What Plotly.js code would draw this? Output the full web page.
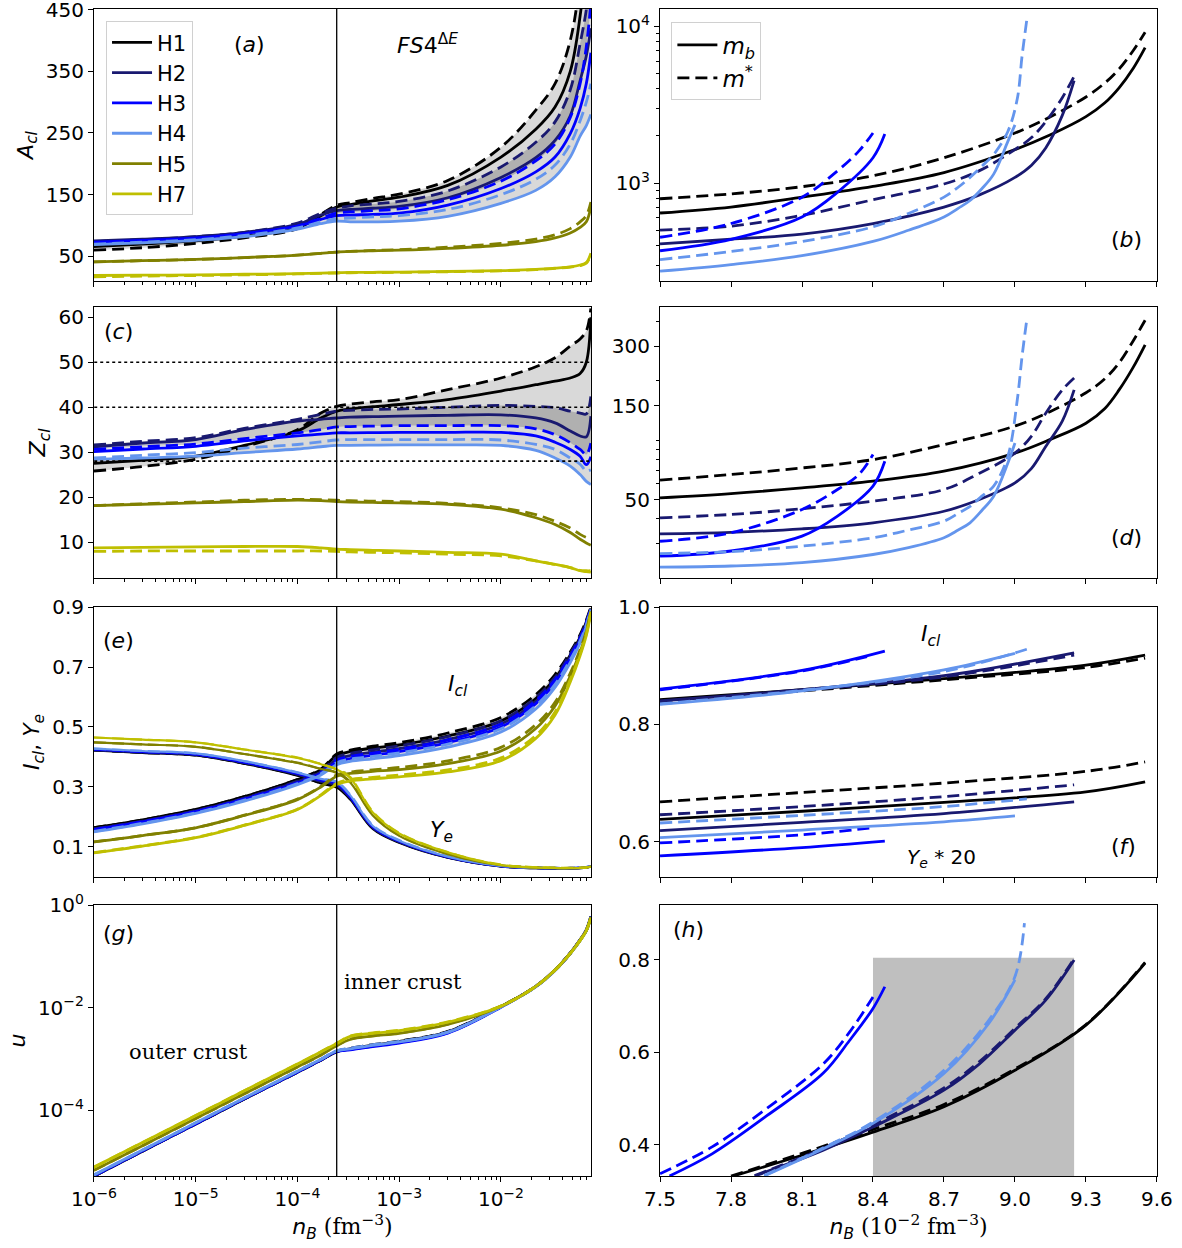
<!DOCTYPE html>
<html><head><meta charset="utf-8">
<script src="https://cdn.plot.ly/plotly-3.0.1.min.js"></script>
<style>html,body{margin:0;padding:0;background:#fff}#chart{width:1182px;height:1248px}</style>
</head><body><div id="chart"></div>
<script>
// ---------------- left column grid (n_B in fm^-3) ----------------
const nB = [1e-6, 3e-6, 1e-5, 3e-5, 1e-4, 1.7e-4, 2.43e-4, 3.3e-4, 5.5e-4, 1e-3, 3e-3, 1e-2, 2.2e-2, 3.4e-2, 4.8e-2, 6e-2, 6.9e-2, 7.65e-2];
const nB_drip = 2.43e-4;
const models = ['H1', 'H2', 'H3', 'H4', 'H5', 'H7'];
const magicZ = [28, 40, 50];

// (a) A_cl
const A_H1_mb = [66, 70, 75, 83, 96, 116, 130, 134, 140, 146, 165, 211, 256, 292, 350, 440, 540, 660];
const A_H1_ms = [60, 64, 71, 80, 95, 118, 133, 137, 144, 151, 173, 227, 287, 330, 400, 500, 620, 800];
const A_H2_mb = [75, 78, 82, 89, 102, 117, 124, 126, 128, 131, 145, 178, 210, 238, 278, 335, 375, 420];
const A_H2_ms = [74, 77, 82, 89, 104, 120, 128, 132, 135, 139, 156, 195, 235, 268, 320, 395, 450, 520];
const A_H3_mb = [73, 76, 80, 87, 99, 110, 116, 117, 118, 120, 133, 160, 187, 211, 249, 290, 330, 380];
const A_H3_ms = [72, 75, 79, 86, 99, 112, 120, 122, 124, 127, 142, 172, 205, 232, 275, 330, 390, 460];
const A_H4_mb = [69, 72, 76, 82, 94, 103, 107, 106, 106, 107, 115, 136, 157, 179, 211, 245, 262, 280];
const A_H4_ms = [70, 73, 77, 84, 96, 106, 111, 112, 114, 116, 126, 150, 175, 198, 232, 270, 300, 330];
const A_H5_mb = [41, 43, 45, 48, 52, 55, 57, 58, 59, 60, 63, 68, 74, 80, 88, 97, 106, 130];
const A_H5_ms = [41, 43, 45, 48, 52, 55, 57, 58, 59.5, 61, 65, 71, 78, 85, 95, 106, 116, 138];
const A_H7_mb = [19, 19.5, 20, 21, 22, 23, 23.5, 24, 24.2, 24.5, 25.5, 27, 29, 31, 33, 36, 40, 55];
const A_H7_ms = [17, 18, 19, 20, 21.5, 22.5, 23, 23.5, 23.7, 24, 25, 26.5, 28.5, 30.5, 32.5, 35, 39, 52];

// (c) Z_cl
const Z_H1_mb = [27.5, 28.2, 29.1, 31.5, 34.7, 37.6, 39.1, 39.6, 40.1, 40.6, 41.7, 43.6, 45.0, 45.8, 46.5, 47.5, 50.0, 60.0];
const Z_H1_ms = [25.8, 26.8, 28.4, 31.2, 35.0, 38.7, 40.2, 40.7, 41.2, 41.7, 43.9, 46.5, 49.0, 51.0, 53.6, 55.2, 57.0, 62.0];
const Z_H2_mb = [31.2, 32.0, 32.8, 35.0, 36.9, 37.3, 37.6, 37.8, 37.9, 38.0, 38.2, 38.3, 37.6, 36.5, 34.7, 33.6, 33.4, 38.0];
const Z_H2_ms = [31.6, 32.4, 33.2, 35.3, 37.3, 38.4, 39.1, 39.3, 39.5, 39.6, 40.0, 40.4, 40.2, 39.9, 39.1, 38.7, 38.5, 42.4];
const Z_H3_mb = [30.1, 30.7, 31.3, 32.5, 33.6, 34.0, 34.3, 34.3, 34.35, 34.4, 34.4, 34.4, 33.6, 32.2, 30.6, 29.1, 27.2, 29.0];
const Z_H3_ms = [30.6, 31.2, 31.8, 33.0, 34.3, 35.0, 35.6, 35.7, 35.8, 35.9, 35.9, 35.9, 35.2, 33.9, 32.1, 30.6, 29.5, 32.0];
const Z_H4_mb = [28.4, 28.7, 29.1, 29.9, 30.7, 31.2, 31.5, 31.5, 31.55, 31.6, 31.6, 31.5, 30.4, 28.7, 26.9, 25.0, 23.5, 22.8];
const Z_H4_ms = [28.7, 29.3, 29.9, 30.9, 31.7, 32.3, 32.7, 32.8, 32.8, 32.8, 32.8, 32.7, 31.7, 30.6, 28.7, 27.3, 25.8, 26.1];
const Z_H5_mb = [18.1, 18.4, 18.7, 19.0, 19.3, 19.2, 19.0, 18.9, 18.8, 18.7, 18.4, 17.3, 15.4, 13.9, 12.1, 10.6, 9.8, 9.3];
const Z_H5_ms = [18.1, 18.5, 18.9, 19.3, 19.5, 19.4, 19.3, 19.2, 19.1, 19.0, 18.6, 17.6, 16.1, 14.6, 13.1, 11.7, 11.0, 10.7];
const Z_H7_mb = [8.7, 8.8, 8.9, 9.0, 9.0, 8.7, 8.4, 8.3, 8.15, 8.0, 7.7, 7.3, 5.8, 5.0, 4.3, 3.6, 3.4, 3.3];
const Z_H7_ms = [7.9, 8.0, 8.0, 8.0, 8.0, 8.0, 7.9, 7.8, 7.7, 7.6, 7.3, 6.9, 5.8, 5.0, 4.3, 3.7, 3.6, 3.6];

// (e) I_cl
const I_H1_mb = [0.164, 0.190, 0.225, 0.268, 0.325, 0.358, 0.405, 0.418, 0.430, 0.440, 0.470, 0.520, 0.595, 0.662, 0.740, 0.800, 0.850, 0.895];
const I_H1_ms = [0.164, 0.190, 0.225, 0.268, 0.325, 0.360, 0.410, 0.423, 0.436, 0.448, 0.480, 0.532, 0.608, 0.675, 0.750, 0.808, 0.856, 0.900];
const I_H2_mb = [0.160, 0.186, 0.220, 0.262, 0.318, 0.350, 0.392, 0.405, 0.416, 0.428, 0.458, 0.510, 0.586, 0.655, 0.735, 0.795, 0.846, 0.893];
const I_H2_ms = [0.160, 0.186, 0.221, 0.263, 0.320, 0.353, 0.398, 0.412, 0.424, 0.437, 0.468, 0.521, 0.598, 0.666, 0.745, 0.803, 0.852, 0.897];
const I_H3_mb = [0.158, 0.184, 0.218, 0.259, 0.313, 0.345, 0.383, 0.395, 0.406, 0.418, 0.448, 0.500, 0.578, 0.648, 0.728, 0.790, 0.842, 0.892];
const I_H3_ms = [0.158, 0.184, 0.218, 0.260, 0.315, 0.348, 0.390, 0.402, 0.413, 0.426, 0.457, 0.510, 0.588, 0.658, 0.737, 0.797, 0.848, 0.895];
const I_H4_mb = [0.150, 0.177, 0.212, 0.253, 0.308, 0.340, 0.374, 0.385, 0.394, 0.405, 0.433, 0.483, 0.560, 0.632, 0.715, 0.780, 0.835, 0.890];
const I_H4_ms = [0.152, 0.179, 0.214, 0.256, 0.311, 0.344, 0.381, 0.393, 0.402, 0.414, 0.443, 0.494, 0.571, 0.642, 0.724, 0.787, 0.840, 0.892];
const I_H5_mb = [0.117, 0.138, 0.164, 0.205, 0.258, 0.300, 0.336, 0.345, 0.352, 0.358, 0.378, 0.420, 0.495, 0.570, 0.670, 0.750, 0.815, 0.885];
const I_H5_ms = [0.117, 0.138, 0.164, 0.206, 0.260, 0.302, 0.340, 0.350, 0.357, 0.365, 0.387, 0.432, 0.508, 0.582, 0.680, 0.758, 0.820, 0.888];
const I_H7_mb = [0.080, 0.103, 0.131, 0.172, 0.225, 0.272, 0.308, 0.320, 0.327, 0.334, 0.350, 0.388, 0.462, 0.540, 0.650, 0.738, 0.805, 0.880];
const I_H7_ms = [0.081, 0.104, 0.132, 0.173, 0.226, 0.274, 0.312, 0.325, 0.332, 0.340, 0.357, 0.397, 0.472, 0.550, 0.658, 0.744, 0.810, 0.884];

// (e) Y_e
const Ye_H1_mb = [0.422, 0.414, 0.405, 0.378, 0.338, 0.312, 0.298, 0.258, 0.160, 0.114, 0.064, 0.035, 0.029, 0.028, 0.028, 0.029, 0.031, 0.034];
const Ye_H1_ms = [0.422, 0.414, 0.405, 0.378, 0.339, 0.313, 0.300, 0.261, 0.163, 0.116, 0.065, 0.036, 0.030, 0.029, 0.029, 0.030, 0.032, 0.035];
const Ye_H2_mb = [0.423, 0.415, 0.407, 0.380, 0.341, 0.318, 0.305, 0.262, 0.163, 0.116, 0.065, 0.035, 0.029, 0.028, 0.028, 0.029, 0.031, 0.034];
const Ye_H2_ms = [0.423, 0.415, 0.407, 0.380, 0.342, 0.319, 0.307, 0.265, 0.166, 0.118, 0.066, 0.036, 0.030, 0.029, 0.029, 0.030, 0.032, 0.035];
const Ye_H3_mb = [0.425, 0.417, 0.409, 0.382, 0.344, 0.322, 0.310, 0.266, 0.166, 0.118, 0.066, 0.036, 0.030, 0.029, 0.029, 0.030, 0.032, 0.035];
const Ye_H3_ms = [0.425, 0.417, 0.409, 0.382, 0.345, 0.323, 0.312, 0.269, 0.169, 0.120, 0.067, 0.037, 0.031, 0.030, 0.030, 0.031, 0.033, 0.036];
const Ye_H4_mb = [0.428, 0.420, 0.412, 0.386, 0.348, 0.327, 0.316, 0.272, 0.170, 0.121, 0.068, 0.037, 0.030, 0.029, 0.029, 0.030, 0.032, 0.035];
const Ye_H4_ms = [0.428, 0.420, 0.412, 0.386, 0.349, 0.328, 0.318, 0.275, 0.173, 0.123, 0.069, 0.038, 0.031, 0.030, 0.030, 0.031, 0.033, 0.036];
const Ye_H5_mb = [0.449, 0.442, 0.434, 0.410, 0.380, 0.360, 0.347, 0.315, 0.205, 0.137, 0.076, 0.039, 0.031, 0.029, 0.029, 0.030, 0.031, 0.034];
const Ye_H5_ms = [0.449, 0.442, 0.434, 0.410, 0.381, 0.361, 0.349, 0.318, 0.208, 0.139, 0.077, 0.040, 0.032, 0.030, 0.030, 0.031, 0.032, 0.035];
const Ye_H7_mb = [0.465, 0.458, 0.449, 0.425, 0.397, 0.376, 0.358, 0.330, 0.215, 0.145, 0.082, 0.040, 0.032, 0.030, 0.029, 0.030, 0.031, 0.034];
const Ye_H7_ms = [0.465, 0.458, 0.449, 0.425, 0.398, 0.377, 0.360, 0.333, 0.218, 0.147, 0.083, 0.041, 0.033, 0.031, 0.030, 0.031, 0.032, 0.035];

// (g) u
const u_H1_mb = [5.2e-6, 1.6e-5, 5.4e-5, 1.66e-4, 5.5e-4, 9.5e-4, 1.38e-3, 1.58e-3, 1.86e-3, 2.19e-3, 3.39e-3, 1.05e-2, 2.57e-2, 5.37e-2, 0.115, 0.209, 0.324, 0.603];
const u_H1_ms = [5.2e-6, 1.6e-5, 5.4e-5, 1.66e-4, 5.5e-4, 9.5e-4, 1.40e-3, 1.62e-3, 1.90e-3, 2.24e-3, 3.45e-3, 1.06e-2, 2.58e-2, 5.38e-2, 0.115, 0.209, 0.324, 0.600];
const u_H2_mb = [5.3e-6, 1.62e-5, 5.5e-5, 1.68e-4, 5.6e-4, 9.6e-4, 1.40e-3, 1.55e-3, 1.80e-3, 2.12e-3, 3.3e-3, 1.04e-2, 2.6e-2, 5.4e-2, 0.116, 0.21, 0.325, 0.60];
const u_H2_ms = [5.3e-6, 1.62e-5, 5.5e-5, 1.68e-4, 5.6e-4, 9.6e-4, 1.42e-3, 1.59e-3, 1.85e-3, 2.17e-3, 3.36e-3, 1.05e-2, 2.6e-2, 5.4e-2, 0.116, 0.21, 0.325, 0.60];
const u_H3_mb = [5.3e-6, 1.63e-5, 5.5e-5, 1.69e-4, 5.6e-4, 9.7e-4, 1.40e-3, 1.50e-3, 1.75e-3, 2.05e-3, 3.2e-3, 1.02e-2, 2.6e-2, 5.4e-2, 0.115, 0.208, 0.32, 0.59];
const u_H3_ms = [5.3e-6, 1.63e-5, 5.5e-5, 1.69e-4, 5.6e-4, 9.7e-4, 1.42e-3, 1.54e-3, 1.80e-3, 2.10e-3, 3.27e-3, 1.03e-2, 2.6e-2, 5.4e-2, 0.115, 0.208, 0.32, 0.59];
const u_H4_mb = [5.5e-6, 1.68e-5, 5.7e-5, 1.73e-4, 5.8e-4, 9.9e-4, 1.43e-3, 1.58e-3, 1.85e-3, 2.15e-3, 3.3e-3, 1.03e-2, 2.55e-2, 5.3e-2, 0.113, 0.205, 0.318, 0.59];
const u_H4_ms = [5.5e-6, 1.68e-5, 5.7e-5, 1.73e-4, 5.8e-4, 9.9e-4, 1.45e-3, 1.62e-3, 1.90e-3, 2.20e-3, 3.36e-3, 1.04e-2, 2.56e-2, 5.3e-2, 0.113, 0.205, 0.318, 0.59];
const u_H5_mb = [6.8e-6, 2.05e-5, 6.9e-5, 2.1e-4, 7.0e-4, 1.2e-3, 1.82e-3, 2.4e-3, 2.8e-3, 3.16e-3, 4.7e-3, 1.07e-2, 2.6e-2, 5.4e-2, 0.115, 0.207, 0.32, 0.58];
const u_H5_ms = [6.8e-6, 2.05e-5, 6.9e-5, 2.1e-4, 7.0e-4, 1.2e-3, 1.85e-3, 2.45e-3, 2.86e-3, 3.22e-3, 4.8e-3, 1.08e-2, 2.6e-2, 5.4e-2, 0.115, 0.207, 0.32, 0.58];
const u_H7_mb = [7.8e-6, 2.35e-5, 7.9e-5, 2.4e-4, 8.0e-4, 1.38e-3, 2.0e-3, 2.75e-3, 3.16e-3, 3.55e-3, 5.2e-3, 1.07e-2, 2.6e-2, 5.4e-2, 0.114, 0.205, 0.315, 0.57];
const u_H7_ms = [7.8e-6, 2.35e-5, 7.9e-5, 2.4e-4, 8.0e-4, 1.38e-3, 2.03e-3, 2.8e-3, 3.22e-3, 3.62e-3, 5.3e-3, 1.08e-2, 2.6e-2, 5.4e-2, 0.114, 0.205, 0.315, 0.57];

// ---------------- right column (n_B in 1e-2 fm^-3) ----------------
// (b) A_cl, (d) Z_cl
const xb_H1 = [7.5, 7.8, 8.1, 8.4, 8.7, 9.0, 9.15, 9.3, 9.38, 9.44, 9.5, 9.55];
const Ab_H1_mb = [644, 703, 813, 953, 1167, 1636, 2030, 2650, 3250, 4050, 5400, 7310];
const Ab_H1_ms = [794, 853, 948, 1112, 1449, 2084, 2650, 3540, 4350, 5333, 7000, 9160];
const Zd_H1_mb = [51, 53.6, 57.3, 62, 69.6, 86, 101, 122, 145, 180, 235, 305];
const Zd_H1_ms = [62.7, 67, 72.3, 79.7, 95, 118, 140, 174, 205, 247, 320, 406];
const xb_H2 = [7.5, 7.8, 8.1, 8.4, 8.7, 8.85, 9.0, 9.07, 9.13, 9.2, 9.25];
const Ab_H2_mb = [409, 438, 473, 552, 703, 840, 1086, 1300, 1675, 2700, 4500];
const Ab_H2_ms = [501, 531, 623, 782, 986, 1200, 1636, 1950, 2465, 3500, 4800];
const Zd_H2_mb = [33.5, 34.1, 35.5, 38.1, 43.6, 50, 60.7, 72, 93, 125, 180];
const Zd_H2_ms = [40.4, 42, 44.9, 49.1, 56.2, 68, 86, 105, 137, 180, 207];
const xb_H3_mb = [7.5, 7.8, 8.1, 8.25, 8.4, 8.45];
const xb_H3_ms = [7.5, 7.8, 8.1, 8.25, 8.34, 8.4];
const Ab_H3_mb = [370, 438, 608, 874, 1449, 2052];
const Ab_H3_ms = [451, 552, 813, 1196, 1597, 2084];
const Zd_H3_mb = [25.8, 27.4, 32.6, 41.2, 58.5, 78.2];
const Zd_H3_ms = [30.7, 33.9, 44.5, 56.2, 67, 84.6];
const xb_H4_mb = [7.5, 7.8, 8.1, 8.4, 8.55, 8.7, 8.76, 8.81, 8.86, 8.91, 8.97, 9.0];
const xb_H4_ms = [7.5, 7.8, 8.1, 8.4, 8.55, 8.7, 8.76, 8.81, 8.86, 8.91, 8.97, 9.01, 9.03, 9.05];
const Ab_H4_mb = [274, 302, 344, 424, 500, 608, 690, 774, 920, 1140, 1845, 2350];
const Ab_H4_ms = [325, 366, 424, 526, 640, 813, 940, 1086, 1280, 1520, 2133, 3459, 6470, 11000];
const Zd_H4_mb = [22.7, 23, 23.9, 26.3, 28.5, 32, 35, 38.1, 44, 52, 76.7, 96.8];
const Zd_H4_ms = [26.6, 27.2, 29, 32, 35, 38.8, 42.5, 46.2, 52, 58.5, 83, 161, 267, 409];

// (f) I_cl and 20*Y_e
const xf_H1 = [7.5, 8.1, 8.7, 9.3, 9.55];
const If_H1_mb = [0.842, 0.859, 0.878, 0.901, 0.918];
const If_H1_ms = [0.840, 0.857, 0.876, 0.897, 0.913];
const Yf_H1_mb = [0.638, 0.652, 0.667, 0.685, 0.702];
const Yf_H1_ms = [0.668, 0.684, 0.700, 0.720, 0.736];
const xf_H2 = [7.5, 8.1, 8.7, 9.25];
const If_H2_mb = [0.840, 0.859, 0.883, 0.922];
const If_H2_ms = [0.839, 0.858, 0.881, 0.918];
const Yf_H2_mb = [0.619, 0.633, 0.648, 0.668];
const Yf_H2_ms = [0.646, 0.660, 0.677, 0.697];
const xf_H3_mb = [7.5, 8.1, 8.45];
const xf_H3_ms = [7.5, 8.1, 8.4];
const If_H3_mb = [0.860, 0.892, 0.925];
const If_H3_ms = [0.859, 0.891, 0.918];
const Yf_H3_mb = [0.576, 0.590, 0.601];
const Yf_H3_ms = [0.598, 0.612, 0.624];
const xf_H4_mb = [7.5, 8.1, 8.7, 9.0];
const xf_H4_ms = [7.5, 8.1, 8.7, 9.05];
const If_H4_mb = [0.834, 0.857, 0.893, 0.921];
const If_H4_ms = [0.835, 0.858, 0.890, 0.928];
const Yf_H4_mb = [0.607, 0.620, 0.634, 0.644];
const Yf_H4_ms = [0.632, 0.645, 0.660, 0.673];

// (h) u
const xh_H1_mb = [7.81, 8.1, 8.4, 8.7, 9.0, 9.3, 9.55];
const xh_H1_ms = [7.8, 8.1, 8.4, 8.7, 9.0, 9.3, 9.55];
const uh_H1_mb = [0.332, 0.377, 0.427, 0.482, 0.561, 0.659, 0.793];
const uh_H1_ms = [0.332, 0.381, 0.433, 0.487, 0.564, 0.660, 0.795];
const xh_H2 = [7.9, 8.19, 8.4, 8.7, 8.85, 9.0, 9.13, 9.25];
const uh_H2_mb = [0.332, 0.388, 0.438, 0.518, 0.575, 0.648, 0.713, 0.800];
const uh_H2_ms = [0.333, 0.392, 0.443, 0.523, 0.580, 0.652, 0.716, 0.803];
const xh_H3_mb = [7.54, 7.72, 7.95, 8.19, 8.3, 8.4, 8.45];
const xh_H3_ms = [7.5, 7.72, 7.95, 8.19, 8.3, 8.4];
const uh_H3_mb = [0.332, 0.380, 0.462, 0.555, 0.625, 0.695, 0.742];
const uh_H3_ms = [0.337, 0.395, 0.478, 0.575, 0.643, 0.720];
const xh_H4_mb = [7.94, 8.19, 8.4, 8.7, 8.89, 9.0];
const xh_H4_ms = [7.94, 8.19, 8.4, 8.7, 8.89, 9.0, 9.04];
const uh_H4_mb = [0.332, 0.391, 0.446, 0.554, 0.663, 0.757];
const uh_H4_ms = [0.333, 0.393, 0.449, 0.561, 0.670, 0.764, 0.880];
const box_h = {x0: 8.4, x1: 9.25, y1: 0.805};

// ---------------- styles ----------------
const COL = {H1: '#000000', H2: '#191970', H3: '#0000ff', H4: '#6495ed', H5: '#808000', H7: '#bfbf00'};
const LW = 2.8;
const DASH = '12px,6px';
const FONT = 'DejaVu Sans, sans-serif';
const SMOOTH = 1.0;

function axn(i, p) { return i === 1 ? p : p + i; }
function line(x, y, color, dashed, i, extra) {
  const t = {type: 'scatter', mode: 'lines', x: x, y: y,
    xaxis: axn(i, 'x'), yaxis: axn(i, 'y'),
    line: {color: color, width: LW, dash: dashed ? DASH : 'solid', shape: 'spline', smoothing: SMOOTH},
    hoverinfo: 'skip', showlegend: false};
  return Object.assign(t, extra || {});
}
function fillPair(x, lo, hi, color, i) {
  return [
    {type: 'scatter', mode: 'lines', x: x, y: lo, xaxis: axn(i, 'x'), yaxis: axn(i, 'y'),
     line: {width: 0, shape: 'spline', smoothing: SMOOTH}, hoverinfo: 'skip', showlegend: false},
    {type: 'scatter', mode: 'lines', x: x, y: hi, xaxis: axn(i, 'x'), yaxis: axn(i, 'y'),
     line: {width: 0, shape: 'spline', smoothing: SMOOTH}, fill: 'tonexty', fillcolor: color,
     hoverinfo: 'skip', showlegend: false}
  ];
}
const LIGHT = 'rgba(150,150,150,0.36)';
const DARK = 'rgba(110,110,110,0.38)';

const data = [];
data.push(...fillPair(nB, A_H4_mb, A_H1_ms, LIGHT, 1));
data.push(...fillPair(nB, A_H3_ms, A_H2_ms, DARK, 1));
data.push(...fillPair(nB, Z_H4_mb, Z_H1_ms, LIGHT, 3));
data.push(...fillPair(nB, Z_H3_ms, Z_H2_ms, DARK, 3));
data.push(...fillPair(nB, I_H4_mb, I_H1_ms, LIGHT, 5));

const leftSets = {
  1: {H1: [A_H1_mb, A_H1_ms], H2: [A_H2_mb, A_H2_ms], H3: [A_H3_mb, A_H3_ms], H4: [A_H4_mb, A_H4_ms], H5: [A_H5_mb, A_H5_ms], H7: [A_H7_mb, A_H7_ms]},
  3: {H1: [Z_H1_mb, Z_H1_ms], H2: [Z_H2_mb, Z_H2_ms], H3: [Z_H3_mb, Z_H3_ms], H4: [Z_H4_mb, Z_H4_ms], H5: [Z_H5_mb, Z_H5_ms], H7: [Z_H7_mb, Z_H7_ms]},
  7: {H1: [u_H1_mb, u_H1_ms], H2: [u_H2_mb, u_H2_ms], H3: [u_H3_mb, u_H3_ms], H4: [u_H4_mb, u_H4_ms], H5: [u_H5_mb, u_H5_ms], H7: [u_H7_mb, u_H7_ms]}
};
const eI = {H1: [I_H1_mb, I_H1_ms], H2: [I_H2_mb, I_H2_ms], H3: [I_H3_mb, I_H3_ms], H4: [I_H4_mb, I_H4_ms], H5: [I_H5_mb, I_H5_ms], H7: [I_H7_mb, I_H7_ms]};
const eY = {H1: [Ye_H1_mb, Ye_H1_ms], H2: [Ye_H2_mb, Ye_H2_ms], H3: [Ye_H3_mb, Ye_H3_ms], H4: [Ye_H4_mb, Ye_H4_ms], H5: [Ye_H5_mb, Ye_H5_ms], H7: [Ye_H7_mb, Ye_H7_ms]};

[1, 3, 7].forEach(function (i) {
  models.forEach(function (m) {
    const s = leftSets[i][m];
    const extra = (i === 1) ? {showlegend: true, name: m, legend: 'legend'} : null;
    data.push(line(nB, s[0], COL[m], false, i, extra));
    data.push(line(nB, s[1], COL[m], true, i));
  });
});
models.forEach(function (m) {
  data.push(line(nB, eI[m][0], COL[m], false, 5));
  data.push(line(nB, eI[m][1], COL[m], true, 5));
  data.push(line(nB, eY[m][0], COL[m], false, 5, {line: {color: COL[m], width: 2.2, shape: 'spline', smoothing: SMOOTH}}));
  data.push(line(nB, eY[m][1], COL[m], true, 5, {line: {color: COL[m], width: 2.2, dash: DASH, shape: 'spline', smoothing: SMOOTH}}));
});

const dripY = {1: [0, 1000], 3: [0, 100], 5: [-1, 2], 7: [1e-8, 10]};
[1, 3, 5, 7].forEach(function (i) {
  data.push({type: 'scatter', mode: 'lines', x: [nB_drip, nB_drip], y: dripY[i],
    xaxis: axn(i, 'x'), yaxis: axn(i, 'y'), line: {color: '#000', width: 1.3},
    hoverinfo: 'skip', showlegend: false});
});
magicZ.forEach(function (z) {
  data.push({type: 'scatter', mode: 'lines', x: [1e-7, 1], y: [z, z], xaxis: 'x3', yaxis: 'y3',
    line: {color: '#000', width: 1.6, dash: 'dot'}, hoverinfo: 'skip', showlegend: false});
});

const R = {
  H1: {xm: xb_H1, xs: xb_H1, A: [Ab_H1_mb, Ab_H1_ms], Z: [Zd_H1_mb, Zd_H1_ms],
       xfm: xf_H1, xfs: xf_H1, I: [If_H1_mb, If_H1_ms], Y: [Yf_H1_mb, Yf_H1_ms],
       xhm: xh_H1_mb, xhs: xh_H1_ms, u: [uh_H1_mb, uh_H1_ms]},
  H2: {xm: xb_H2, xs: xb_H2, A: [Ab_H2_mb, Ab_H2_ms], Z: [Zd_H2_mb, Zd_H2_ms],
       xfm: xf_H2, xfs: xf_H2, I: [If_H2_mb, If_H2_ms], Y: [Yf_H2_mb, Yf_H2_ms],
       xhm: xh_H2, xhs: xh_H2, u: [uh_H2_mb, uh_H2_ms]},
  H3: {xm: xb_H3_mb, xs: xb_H3_ms, A: [Ab_H3_mb, Ab_H3_ms], Z: [Zd_H3_mb, Zd_H3_ms],
       xfm: xf_H3_mb, xfs: xf_H3_ms, I: [If_H3_mb, If_H3_ms], Y: [Yf_H3_mb, Yf_H3_ms],
       xhm: xh_H3_mb, xhs: xh_H3_ms, u: [uh_H3_mb, uh_H3_ms]},
  H4: {xm: xb_H4_mb, xs: xb_H4_ms, A: [Ab_H4_mb, Ab_H4_ms], Z: [Zd_H4_mb, Zd_H4_ms],
       xfm: xf_H4_mb, xfs: xf_H4_ms, I: [If_H4_mb, If_H4_ms], Y: [Yf_H4_mb, Yf_H4_ms],
       xhm: xh_H4_mb, xhs: xh_H4_ms, u: [uh_H4_mb, uh_H4_ms]}
};
['H1', 'H2', 'H3', 'H4'].forEach(function (m) {
  const r = R[m], c = COL[m];
  data.push(line(r.xm, r.A[0], c, false, 2));
  data.push(line(r.xs, r.A[1], c, true, 2));
  data.push(line(r.xm, r.Z[0], c, false, 4));
  data.push(line(r.xs, r.Z[1], c, true, 4));
  data.push(line(r.xfm, r.I[0], c, false, 6));
  data.push(line(r.xfs, r.I[1], c, true, 6));
  data.push(line(r.xfm, r.Y[0], c, false, 6));
  data.push(line(r.xfs, r.Y[1], c, true, 6));
  data.push(line(r.xhm, r.u[0], c, false, 8));
  data.push(line(r.xhs, r.u[1], c, true, 8));
});
data.push({type: 'scatter', mode: 'lines', x: [null], y: [null], xaxis: 'x2', yaxis: 'y2',
  name: '<i>m</i><sub><i>b</i></sub>', legend: 'legend2', line: {color: '#000', width: LW}});
data.push({type: 'scatter', mode: 'lines', x: [null], y: [null], xaxis: 'x2', yaxis: 'y2',
  name: '<i>m</i><sup>*</sup>', legend: 'legend2', line: {color: '#000', width: LW, dash: DASH}});

// ---------------- layout ----------------
const LX = [0.0795, 0.5], RX = [0.5584, 0.9788];
const ROWS = [[0.7748, 0.9928], [0.5369, 0.7540], [0.2973, 0.5136], [0.0577, 0.2748]];
const decVals = [1e-6, 1e-5, 1e-4, 1e-3, 1e-2];
const decText = ['10<sup>−6</sup>', '10<sup>−5</sup>', '10<sup>−4</sup>', '10<sup>−3</sup>', '10<sup>−2</sup>'];
const minorLog = [];
[1e-6, 1e-5, 1e-4, 1e-3, 1e-2].forEach(function (d) { for (let k = 2; k <= 9; k++) minorLog.push(k * d); });
const rTicks = [7.5, 7.8, 8.1, 8.4, 8.7, 9.0, 9.3, 9.6];

const tickFont = {family: FONT, size: 20, color: '#000'};
function baseAx() {
  return {showline: true, mirror: true, linecolor: '#000', linewidth: 1, showgrid: false, zeroline: false,
    ticks: 'outside', ticklen: 5, tickwidth: 1, tickcolor: '#000', tickfont: tickFont,
    ticklabeloverflow: 'allow'};
}
const layout = {
  width: 1182, height: 1248, margin: {l: 0, r: 0, t: 0, b: 0},
  paper_bgcolor: '#fff', plot_bgcolor: '#fff', font: {family: FONT, size: 20, color: '#000'},
  showlegend: true,
  legend: {x: 0.0897, y: 0.983, xanchor: 'left', yanchor: 'top', bgcolor: 'rgba(255,255,255,0.85)',
    bordercolor: '#d0d0d0', borderwidth: 1, font: {family: FONT, size: 21}, tracegroupgap: 0,
    itemwidth: 40, traceorder: 'normal'},
  legend2: {x: 0.568, y: 0.982, xanchor: 'left', yanchor: 'top', bgcolor: 'rgba(255,255,255,0.85)',
    bordercolor: '#d0d0d0', borderwidth: 1, font: {family: FONT, size: 23}, tracegroupgap: 0,
    itemwidth: 40, traceorder: 'normal'},
  shapes: [{type: 'rect', xref: 'x8', yref: 'y8', x0: box_h.x0, x1: box_h.x1, y0: 0.2, y1: box_h.y1,
    fillcolor: '#bfbfbf', line: {width: 0}, layer: 'below'}],
  annotations: []
};
for (let i = 1; i <= 8; i++) {
  const row = Math.floor((i - 1) / 2), left = (i % 2 === 1);
  const xa = baseAx(), ya = baseAx();
  xa.domain = left ? LX : RX; ya.domain = ROWS[row];
  xa.anchor = axn(i, 'y'); ya.anchor = axn(i, 'x');
  if (left) {
    xa.type = 'log'; xa.range = [-6, -1.115];
    xa.tickmode = 'array'; xa.tickvals = decVals; xa.ticktext = decText;
    xa.minor = {tickmode: 'array', tickvals: minorLog, ticks: 'outside', ticklen: 3, tickcolor: '#000'};
  } else {
    xa.range = [7.5, 9.6]; xa.tickmode = 'array'; xa.tickvals = rTicks;
    xa.ticktext = rTicks.map(function (v) { return v.toFixed(1); });
  }
  xa.showticklabels = (row === 3);
  layout[axn(i, 'xaxis')] = xa;
  layout[axn(i, 'yaxis')] = ya;
}
Object.assign(layout.yaxis, {range: [10, 451], tickmode: 'array', tickvals: [50, 150, 250, 350, 450],
  title: {text: '<i>A</i><sub><i>cl</i></sub>', font: {size: 22}, standoff: 6}});
Object.assign(layout.yaxis2, {type: 'log', range: [2.375, 4.11], tickmode: 'array', tickvals: [1000, 10000],
  ticktext: ['10<sup>3</sup>', '10<sup>4</sup>'],
  minor: {tickmode: 'array', tickvals: [300, 400, 500, 600, 700, 800, 900, 2000, 3000, 4000, 5000, 6000, 7000, 8000, 9000], ticks: 'outside', ticklen: 3, tickcolor: '#000'}});
Object.assign(layout.yaxis3, {range: [2.0, 62.3], tickmode: 'array', tickvals: [10, 20, 30, 40, 50, 60],
  title: {text: '<i>Z</i><sub><i>cl</i></sub>', font: {size: 22}, standoff: 6}});
Object.assign(layout.yaxis4, {type: 'log', range: [1.301, 2.676], tickmode: 'array', tickvals: [50, 150, 300],
  ticktext: ['50', '150', '300'],
  minor: {tickmode: 'array', tickvals: [30, 40, 60, 70, 80, 90, 100, 200, 400], ticks: 'outside', ticklen: 3, tickcolor: '#000'}});
Object.assign(layout.yaxis5, {range: [0.0, 0.9], tickmode: 'array', tickvals: [0.1, 0.3, 0.5, 0.7, 0.9],
  title: {text: '<i>I</i><sub><i>cl</i></sub>, <i>Y</i><sub><i>e</i></sub>', font: {size: 22}, standoff: 6}});
Object.assign(layout.yaxis6, {range: [0.54, 1.0], tickmode: 'array', tickvals: [0.6, 0.8, 1.0], ticktext: ['0.6', '0.8', '1.0']});
Object.assign(layout.yaxis7, {type: 'log', range: [-5.28, 0], tickmode: 'array', tickvals: [1e-4, 1e-2, 1],
  ticktext: ['10<sup>−4</sup>', '10<sup>−2</sup>', '10<sup>0</sup>'],
  title: {text: '<i>u</i>', font: {size: 22}, standoff: 6}});
Object.assign(layout.yaxis8, {range: [0.332, 0.919], tickmode: 'array', tickvals: [0.4, 0.6, 0.8]});
layout.xaxis7.title = {text: '<i>n</i><sub><i>B</i></sub> <span style="font-family:DejaVu Serif">(fm<sup>−3</sup>)</span>', font: {size: 22}, standoff: 6};
layout.xaxis8.title = {text: '<i>n</i><sub><i>B</i></sub> <span style="font-family:DejaVu Serif">(10<sup>−2</sup> fm<sup>−3</sup>)</span>', font: {size: 22}, standoff: 6};

function ann(i, fx, fy, text, opts) {
  const a = {xref: axn(i, 'x') + ' domain', yref: axn(i, 'y') + ' domain', x: fx, y: fy, text: text,
    showarrow: false, xanchor: 'center', yanchor: 'middle', font: {family: FONT, size: 22, color: '#000'}};
  layout.annotations.push(Object.assign(a, opts || {}));
}
const SERIF = {family: 'DejaVu Serif, serif', size: 21, color: '#000'};
ann(1, 0.3125, 0.869, '(<i>a</i>)');
ann(1, 0.671, 0.872, '<i>FS</i>4<sup>Δ<i>E</i></sup>');
ann(2, 0.939, 0.154, '(<i>b</i>)');
ann(3, 0.049, 0.91, '(<i>c</i>)');
ann(4, 0.939, 0.148, '(<i>d</i>)');
ann(5, 0.049, 0.877, '(<i>e</i>)');
ann(5, 0.733, 0.711, '<i>I</i><sub><i>cl</i></sub>');
ann(5, 0.70, 0.169, '<i>Y</i><sub><i>e</i></sub>');
ann(6, 0.546, 0.895, '<i>I</i><sub><i>cl</i></sub>');
ann(6, 0.566, 0.07, '<i>Y</i><sub><i>e</i></sub> * 20', {font: {family: FONT, size: 20, color: '#000'}});
ann(6, 0.933, 0.113, '(<i>f</i>)');
ann(7, 0.049, 0.895, '(<i>g</i>)');
ann(7, 0.621, 0.717, 'inner crust', {font: SERIF});
ann(7, 0.191, 0.458, 'outer crust', {font: SERIF});
ann(8, 0.058, 0.908, '(<i>h</i>)');

Plotly.newPlot('chart', data, layout, {staticPlot: true, displayModeBar: false});
</script>
</body></html>
